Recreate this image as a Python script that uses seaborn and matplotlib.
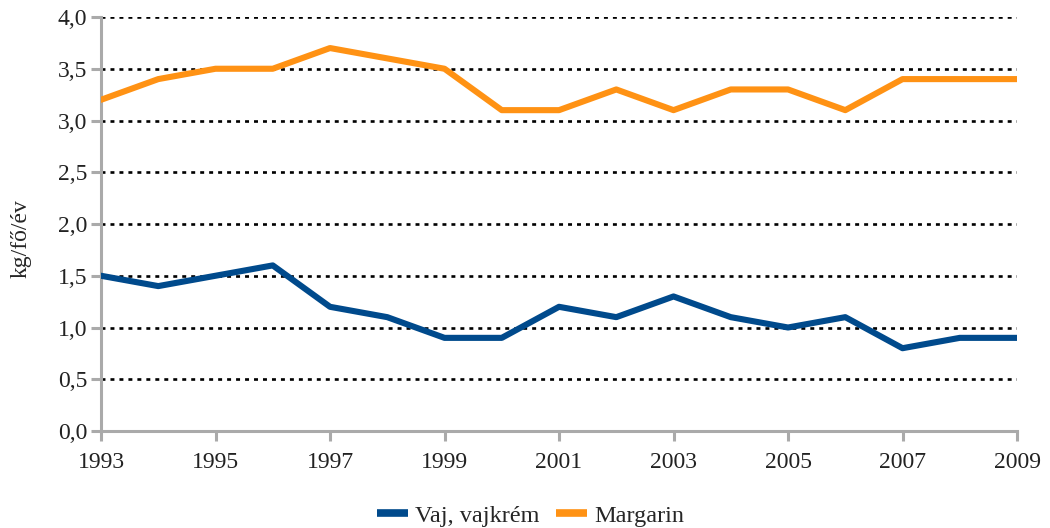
import matplotlib
matplotlib.use("Agg")
import matplotlib.pyplot as plt
import seaborn as sns
import pandas as pd
from matplotlib.ticker import FuncFormatter, MultipleLocator

years = list(range(1993, 2010))
vaj = [1.5, 1.4, 1.5, 1.6, 1.2, 1.1, 0.9, 0.9, 1.2, 1.1, 1.3, 1.1, 1.0, 1.1, 0.8, 0.9, 0.9]
margarin = [3.2, 3.4, 3.5, 3.5, 3.7, 3.6, 3.5, 3.1, 3.1, 3.3, 3.1, 3.3, 3.3, 3.1, 3.4, 3.4, 3.4]
series_names = ["Vaj, vajkrém", "Margarin"]
colors = ["#004A8C", "#FF9214"]
xticks = list(range(1993, 2010, 2))

sns.set_theme(style="white")
plt.rcParams['font.family'] = ['Liberation Serif', 'DejaVu Serif']

df = pd.DataFrame({"year": years * 2,
                   "value": vaj + margarin,
                   "series": [series_names[0]] * len(years) + [series_names[1]] * len(years)})

fig = plt.figure(figsize=(10.5, 5.28), dpi=100)
ax = fig.add_axes([0.0962, 0.1837, 0.8724, 0.7841])

for y in [0.5, 1.0, 1.5, 2.0, 2.5, 3.0, 3.5, 4.0]:
    ax.axhline(y, color="black", lw=1.9, ls=(0, (1.5, 1.9)), zorder=1)

sns.lineplot(data=df, x="year", y="value", hue="series", palette=colors,
             linewidth=4.4, ax=ax, legend=True, zorder=3)

ax.set_xlim(1993, 2009)
ax.set_ylim(0, 4.0)
ax.set_xticks(xticks)
ax.yaxis.set_major_locator(MultipleLocator(0.5))
ax.yaxis.set_major_formatter(FuncFormatter(lambda v, p: f"{v:.1f}".replace(".", ",")))
ax.set_xlabel("")
ax.set_ylabel("kg/fő/év", fontsize=17, labelpad=0)
ax.yaxis.set_label_coords(-0.076, 0.465)

for s in ["top", "right"]:
    ax.spines[s].set_visible(False)
for s in ["left", "bottom"]:
    ax.spines[s].set_color("#AAAAAA")
    ax.spines[s].set_linewidth(2.2)
ax.tick_params(axis="both", which="major", length=7, width=2.2, color="#AAAAAA",
               labelsize=17, labelcolor="#222222", direction="out")
ax.tick_params(axis="y", pad=3)
ax.tick_params(axis="x", pad=8)
ax.tick_params(left=True, bottom=True)

handles, labels = ax.get_legend_handles_labels()
for h in handles:
    h.set_linewidth(5.5)
    h.set_solid_capstyle("butt")
ax.legend(handles, labels, loc="center", bbox_to_anchor=(0.469, -0.205),
          ncol=2, frameon=False, fontsize=17.5, handlelength=1.25, columnspacing=0.7,
          handletextpad=0.3)

fig.savefig("out.png", dpi=100)
